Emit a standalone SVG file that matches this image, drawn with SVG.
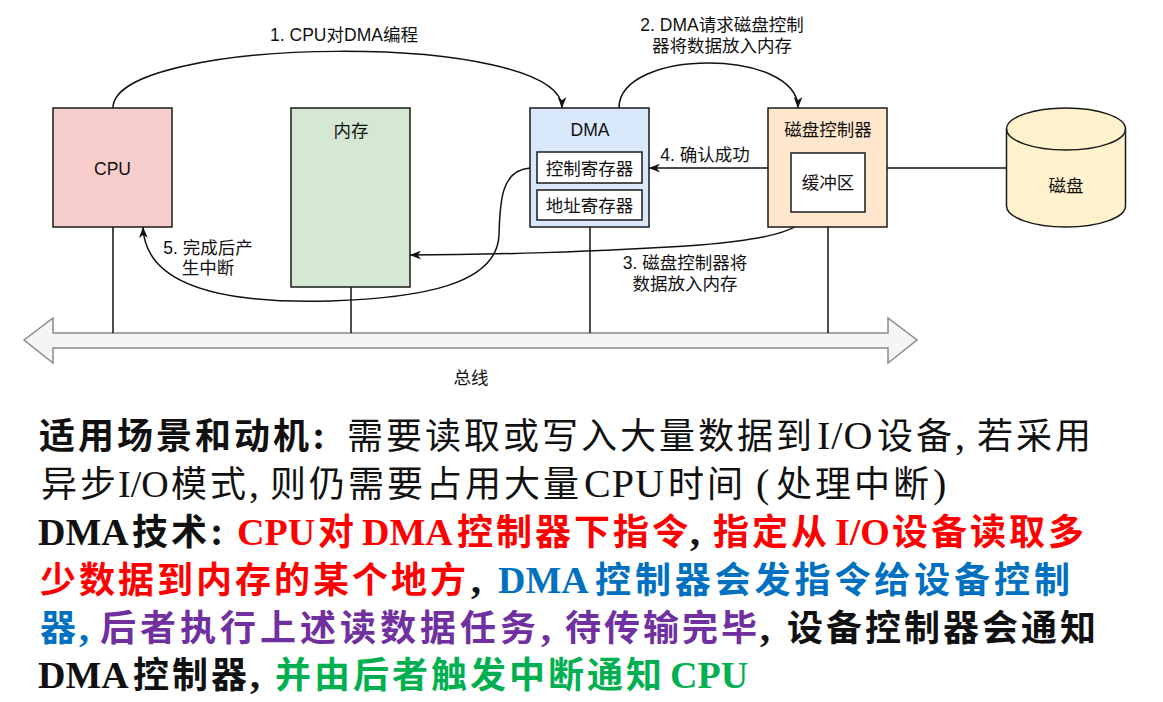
<svg xmlns="http://www.w3.org/2000/svg" width="1163" height="702" viewBox="0 0 1163 702">
<style>
.box{stroke:#1a1a1a;stroke-width:1.5}
.ln{fill:none;stroke:#111;stroke-width:1.5}
.lbl{font-family:"Liberation Sans","Noto Sans CJK SC",sans-serif;font-size:17.5px;fill:#111;text-anchor:middle}
.p{font-family:"Liberation Serif","Noto Sans CJK SC",serif;font-size:36px;letter-spacing:3px;fill:#111}
.b{font-weight:700}
.l{font-size:40px;letter-spacing:1px}
.lb{font-size:38px;letter-spacing:0px}
.red{fill:#ff0000}.blue{fill:#0070c0}.pur{fill:#7030a0}.grn{fill:#00b050}.blk{fill:#111}
</style>
<defs>
<marker id="arr" viewBox="0 0 10 8" refX="10" refY="4" markerWidth="11" markerHeight="9" markerUnits="userSpaceOnUse" orient="auto">
<path d="M0,0 L10,4 L0,8 L3,4 Z" fill="#111"/>
</marker>
</defs>
<rect width="1163" height="702" fill="#ffffff"/>

<g id="bus">
<polygon points="24,340 53,318 53,333 888,333 888,318 917,340 888,363 888,348 53,348 53,363" fill="#f5f5f5" stroke="#8a8a8a" stroke-width="1.5"/>
<text class="lbl" x="471" y="384">总线</text>
</g>

<g id="connectors">
<line class="ln" x1="113" y1="227" x2="113" y2="333"/>
<line class="ln" x1="351" y1="287" x2="351" y2="333"/>
<line class="ln" x1="590" y1="227" x2="590" y2="333"/>
<line class="ln" x1="828" y1="227" x2="828" y2="333"/>
<line class="ln" x1="887" y1="168" x2="1006" y2="168"/>
<path class="ln" d="M113,108 C113,35 562,30 562,108" marker-end="url(#arr)"/>
<path class="ln" d="M619,108 C619,48 798,48 798,108" marker-end="url(#arr)"/>
<line class="ln" x1="768" y1="168" x2="649" y2="168" marker-end="url(#arr)"/>
<path class="ln" d="M808,212 C805,232 760,240 700,245 C600,252 480,255 410,255" marker-end="url(#arr)"/>
<path class="ln" d="M530,168 C500,170 500,205 499,235 C497,285 420,298 330,301 C220,304 145,285 143,227" marker-end="url(#arr)"/>
<text class="lbl" x="344" y="41">1. CPU对DMA编程</text>
<text class="lbl" x="722" y="31">2. DMA请求磁盘控制</text>
<text class="lbl" x="722" y="52">器将数据放入内存</text>
<text class="lbl" x="705" y="161">4. 确认成功</text>
<text class="lbl" x="685" y="269">3. 磁盘控制器将</text>
<text class="lbl" x="685" y="290">数据放入内存</text>
<text class="lbl" x="208" y="254">5. 完成后产</text>
<text class="lbl" x="208" y="274">生中断</text>
</g>

<g id="cpu">
<rect class="box" x="53" y="108" width="119" height="119" fill="#f8cecc"/>
<text class="lbl" x="112.5" y="175">CPU</text>
</g>

<g id="memory">
<rect class="box" x="291" y="108" width="119" height="179" fill="#d5e8d4"/>
<text class="lbl" x="351" y="137">内存</text>
</g>

<g id="dma">
<rect class="box" x="530" y="108" width="119" height="119" fill="#dae8fc"/>
<text class="lbl" x="590" y="136">DMA</text>
<rect class="box" x="537" y="152" width="105" height="31" fill="#ffffff"/>
<text class="lbl" x="589.5" y="175">控制寄存器</text>
<rect class="box" x="537" y="190" width="105" height="30" fill="#ffffff"/>
<text class="lbl" x="589.5" y="212">地址寄存器</text>
</g>

<g id="diskctrl">
<rect class="box" x="768" y="108" width="119" height="119" fill="#ffe6cc"/>
<text class="lbl" x="828" y="136">磁盘控制器</text>
<rect class="box" x="791" y="153" width="74" height="59" fill="#ffffff"/>
<text class="lbl" x="828" y="189">缓冲区</text>
</g>

<g id="disk">
<path class="box" d="M1006.5,129 A59.5,21 0 0 1 1125.5,129 V206 A59.5,21 0 0 1 1006.5,206 Z" fill="#fff2cc"/>
<path class="box" d="M1006.5,129 A59.5,21 0 0 0 1125.5,129" fill="none"/>
<text class="lbl" x="1066" y="192">磁盘</text>
</g>

<g id="description">
<text class="p" y="449"><tspan x="39" class="b">适用场景和动机</tspan><tspan class="b l">:</tspan><tspan x="347">需要读取或写入大量数据到</tspan><tspan x="817" class="l">I/O</tspan><tspan x="877">设备</tspan><tspan class="l">,</tspan><tspan x="977">若采用</tspan></text>
<text class="p" y="497"><tspan x="41">异步</tspan><tspan x="118" class="lb">I/O</tspan><tspan x="171">模式</tspan><tspan class="l">,</tspan><tspan x="270">则仍需要占用大量</tspan><tspan x="584" class="l">CPU</tspan><tspan x="668">时间</tspan><tspan x="756" class="l">(</tspan><tspan x="776">处理中断</tspan><tspan x="933" class="l">)</tspan></text>
<text class="p b" y="545"><tspan x="38" class="lb">DMA</tspan><tspan x="132">技术</tspan><tspan class="l">:</tspan><tspan x="237" class="lb red">CPU</tspan><tspan x="318" class="red">对</tspan><tspan x="362" class="lb red">DMA</tspan><tspan x="457" class="red">控制器下指令</tspan><tspan x="690" class="l">,</tspan><tspan x="713" class="red">指定从</tspan><tspan x="835" class="lb red">I/O</tspan><tspan x="892" class="red">设备读取多</tspan></text>
<text class="p b" y="593"><tspan x="40" class="red">少数据到内存的某个地方</tspan><tspan x="471" class="l">,</tspan><tspan x="498" class="lb blue">DMA</tspan><tspan x="595" class="blue" style="letter-spacing:3.9px">控制器会发指令给设备控制</tspan></text>
<text class="p b" y="641"><tspan x="40" class="blue">器</tspan><tspan class="l blue">,</tspan><tspan x="100" class="pur" style="letter-spacing:4px">后者执行上述读数据任务</tspan><tspan x="541" class="l pur">,</tspan><tspan x="565" class="pur">待传输完毕</tspan><tspan x="760" class="l">,</tspan><tspan x="787">设备控制器会通知</tspan></text>
<text class="p b" y="688"><tspan x="38" class="lb">DMA</tspan><tspan x="133">控制器</tspan><tspan class="l">,</tspan><tspan x="275" class="grn">并由后者触发中断通知</tspan><tspan x="670" class="lb grn">CPU</tspan></text>
</g>
</svg>
